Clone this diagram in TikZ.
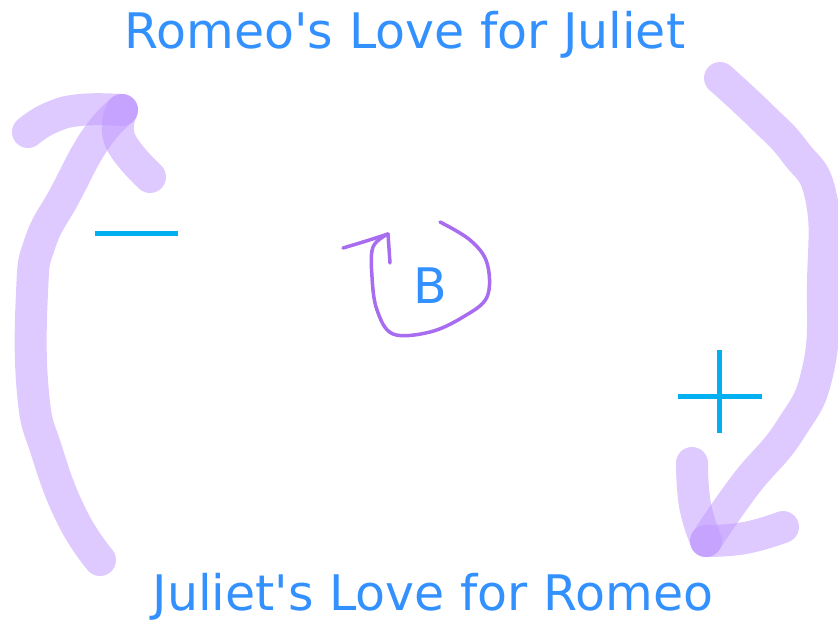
\documentclass[tikz,border=0pt]{standalone}
\usepackage{fontspec}
\setmainfont{DejaVu Sans}
\definecolor{txtblue}{RGB}{51,144,255}
\definecolor{signcyan}{RGB}{0,176,240}
\definecolor{penpurple}{RGB}{190,150,255}
\definecolor{loopurple}{RGB}{168,108,240}
\begin{document}
\begin{tikzpicture}[x=1pt,y=-1pt,
  label/.style={text=txtblue,font=\fontsize{49}{56}\selectfont,inner sep=0pt,anchor=base},
  pen/.style={draw=penpurple,draw opacity=0.5,line width=32pt,line cap=round,line join=round},
  thin pen/.style={draw=loopurple,line width=3.5pt,line cap=round,line join=round},
  sign/.style={draw=signcyan,line width=5pt}]
\useasboundingbox (0,0) rectangle (838,621);
% texts
\node[label] (romeo) at (405,48) {Romeo\textquotesingle s Love for Juliet};
\node[label] (juliet) at (433,610) {Juliet\textquotesingle s Love for Romeo};
\node[label] (b) at (430,303) {B};
% left arrow (upwards)
\coordinate (ltip) at (122,110);
\draw[pen] plot[smooth,tension=0.8] coordinates {(100,560) (72,517) (47,452) (33,393) (32,293) (40,243) (65,195) (95,140) (ltip)};
\draw[pen] plot[smooth,tension=0.8] coordinates {(28,132) (50,118) (80,110) (ltip)};
\draw[pen] plot[smooth,tension=0.8] coordinates {(ltip) (120,140) (150,177)};
% right arrow (downwards)
\coordinate (rtip) at (706,541);
\draw[pen] plot[smooth,tension=0.8] coordinates {(720,78) (760,115) (795,152) (821,197) (823,283) (818,370) (790,430) (745,485) (rtip)};
\draw[pen] plot[smooth,tension=0.8] coordinates {(692,463) (695,505) (rtip)};
\draw[pen] plot[smooth,tension=0.8] coordinates {(rtip) (745,538) (783,527)};
% signs
\coordinate (m1) at (95,233); \coordinate (m2) at (178,233);
\draw[sign] (m1) -- (m2);
\coordinate (p1) at (678,396); \coordinate (p2) at (762,396);
\coordinate (p3) at (719,350); \coordinate (p4) at (719,433);
\draw[sign] (p1) -- (p2);
\draw[sign] (p3) -- (p4);
% balancing loop
\coordinate (btip) at (388,234);
\draw[thin pen] plot[smooth,tension=0.6] coordinates {(440,222) (470,240) (487,263) (487,297) (463,317) (430,332) (393,334) (377,310) (372,277) (373,247) (btip)};
\draw[thin pen] plot[smooth,tension=0.6] coordinates {(343,248) (363,242) (btip)};
\draw[thin pen] (btip) -- (390,263);
\end{tikzpicture}
\end{document}
